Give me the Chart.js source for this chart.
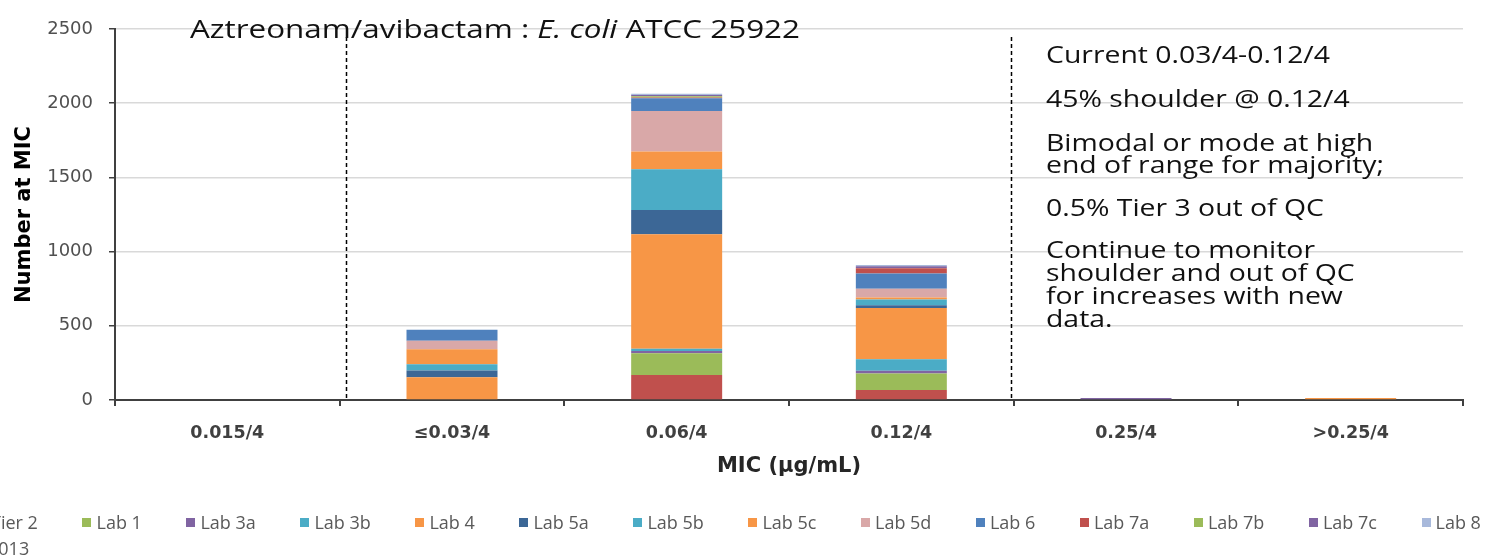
<!DOCTYPE html>
<html><head><meta charset="utf-8">
<script src="https://cdn.jsdelivr.net/npm/chart.js@4.4.1/dist/chart.umd.min.js"></script>
<style>
html,body{margin:0;padding:0;background:#fff;}
#wrap{position:relative;width:1490px;height:558px;overflow:hidden;background:#fff;}
#c{position:absolute;left:0;top:0;}
#legend{position:absolute;left:0;top:0;width:1490px;height:558px;pointer-events:none;font-family:'Open Sans',sans-serif;font-size:18px;color:#595959;}
.row{position:absolute;display:flex;align-items:center;white-space:nowrap;height:24px;line-height:24px;}
.item{display:flex;align-items:center;}
.box{width:9px;height:9px;margin-right:5px;flex:none;}
</style></head><body>
<div id="wrap"><canvas id="c" width="1490" height="558"></canvas><div id="legend"></div></div>
<script>
// ---- data ----
const categories = ['0.015/4', '≤0.03/4', '0.06/4', '0.12/4', '0.25/4', '>0.25/4'];
const tier2 = [0, 0, 169, 67, 0, 0];
const lab1  = [0, 0, 146, 112, 0, 0];
const lab3a = [0, 0, 15, 18, 14, 0];
const lab3b = [0, 0, 16, 77, 0, 0];
const lab4  = [0, 153, 771, 346, 0, 14];
const lab5a = [0, 45, 164, 18, 0, 0];
const lab5b = [0, 43, 274, 40, 0, 0];
const lab5c = [0, 101, 119, 13, 0, 0];
const lab5d = [0, 58, 274, 58, 0, 0];
const lab6  = [0, 74, 86, 104, 0, 0];
const lab7a = [0, 0, 5, 34, 0, 0];
const lab7b = [0, 0, 8, 0, 0, 0];
const lab7c = [0, 0, 8, 14, 0, 0];
const lab8  = [0, 0, 8, 8, 0, 0];
const seriesLabels = ['Tier 2','Lab 1','Lab 3a','Lab 3b','Lab 4','Lab 5a','Lab 5b','Lab 5c','Lab 5d','Lab 6','Lab 7a','Lab 7b','Lab 7c','Lab 8'];
const seriesValues = [tier2, lab1, lab3a, lab3b, lab4, lab5a, lab5b, lab5c, lab5d, lab6, lab7a, lab7b, lab7c, lab8];
const yTicks = [0, 500, 1000, 1500, 2000, 2500];
const titleParts = [['Aztreonam/avibactam : ', 'normal'], ['E. coli', 'italic'], [' ATCC 25922', 'normal']];
const noteLines = ['Current 0.03/4-0.12/4', '45% shoulder @ 0.12/4', 'Bimodal or mode at high', 'end of range for majority;', '0.5% Tier 3 out of QC', 'Continue to monitor', 'shoulder and out of QC', 'for increases with new', 'data.'];
const legendExtra = '2013';

// ---- styles ----
const seriesColors = ['#C0504D','#9BBB59','#8064A2','#4BACC6','#F79646','#3C6796','#4BACC6','#F79646','#D9A8A8','#4F81BD','#C0504D','#9BBB59','#8064A2','#A8B9DB'];
const dashedAt = [0.527, 3.488];     // category positions of the dashed separators
const noteBaselines = [63, 107, 151, 173, 216, 258, 281, 304, 327];
const NOTE_X = 1046, NOTE_W = 284, NOTE_FONT = 23;
const TITLE_X = 190, TITLE_W = 610, TITLE_BASE = 38, TITLE_FONT = 25;

const overlay = {
  id: 'overlay',
  afterDraw(chart) {
    const ctx = chart.ctx, xs = chart.scales.x, area = chart.chartArea;
    ctx.save();
    ctx.strokeStyle = '#000'; ctx.lineWidth = 1.5; ctx.setLineDash([4, 3]);
    dashedAt.forEach(p => {
      const x = Math.round(xs.getPixelForValue(p)) + 0.5;
      ctx.beginPath(); ctx.moveTo(x, area.top + 8); ctx.lineTo(x, area.bottom); ctx.stroke();
    });
    ctx.setLineDash([]);
    ctx.fillStyle = '#111'; ctx.textBaseline = 'alphabetic'; ctx.textAlign = 'left';
    let natural = 0;
    titleParts.forEach(([t, st]) => { ctx.font = st + ' ' + TITLE_FONT + 'px "Open Sans"'; natural += ctx.measureText(t).width; });
    const tsx = TITLE_W / natural;
    ctx.save(); ctx.translate(TITLE_X, TITLE_BASE); ctx.scale(tsx, 1);
    let cx = 0;
    titleParts.forEach(([t, st]) => { ctx.font = st + ' ' + TITLE_FONT + 'px "Open Sans"'; ctx.fillText(t, cx, 0); cx += ctx.measureText(t).width; });
    ctx.restore();
    ctx.font = NOTE_FONT + 'px "Open Sans"';
    const nsx = NOTE_W / ctx.measureText(noteLines[0]).width;
    noteLines.forEach((t, i) => {
      ctx.save(); ctx.translate(NOTE_X, noteBaselines[i]); ctx.scale(nsx, 1); ctx.fillText(t, 0, 0); ctx.restore();
    });
    ctx.restore();
  }
};

const chart = new Chart(document.getElementById('c'), {
  type: 'bar',
  data: {
    labels: categories,
    datasets: seriesLabels.map((l, i) => ({ label: l, data: seriesValues[i], backgroundColor: seriesColors[i], borderWidth: 0, stack: 's' }))
  },
  options: {
    responsive: false, animation: false, devicePixelRatio: 1,
    layout: { padding: { top: 29, right: 27, bottom: 78, left: 0 } },
    datasets: { bar: { barPercentage: 0.405, categoryPercentage: 1 } },
    plugins: { legend: { display: false }, title: { display: false }, tooltip: { enabled: false } },
    scales: {
      x: {
        stacked: true,
        grid: { display: true, drawOnChartArea: false, drawTicks: true, tickLength: 6, offset: true, color: '#404040', lineWidth: 2 },
        border: { display: true, color: '#404040', width: 2 },
        ticks: { padding: 17, color: '#404040', maxRotation: 0, autoSkip: false, font: { family: 'DejaVu Sans', size: 17.5, weight: 'bold' } },
        title: { display: true, text: 'MIC (µg/mL)', color: '#262626', font: { family: 'DejaVu Sans', size: 21, weight: 'bold' }, padding: { top: 0, bottom: 1 } },
        afterFit: s => { s.height = 80; }
      },
      y: {
        stacked: true, min: 0, max: 2500,
        afterBuildTicks: s => { s.ticks = yTicks.map(v => ({ value: v })); },
        ticks: { padding: 16, color: '#505050', font: { family: 'DejaVu Sans', size: 18 }, callback: v => String(v) },
        grid: { color: '#d9d9d9', lineWidth: 1.5, tickColor: '#404040', tickLength: 6, drawTicks: true },
        border: { display: true, color: '#404040', width: 2 },
        title: { display: true, text: 'Number at MIC', color: '#000', font: { family: 'DejaVu Sans', size: 21, weight: 'bold' }, padding: { top: 12, bottom: 0 } },
        afterFit: s => { s.width = 115; }
      }
    }
  },
  plugins: [overlay]
});

// ---- legend (HTML, from the chart's datasets) ----
(function () {
  const lg = document.getElementById('legend');
  const row = document.createElement('div');
  row.className = 'row'; row.style.left = '-23px'; row.style.top = '510px';
  chart.data.datasets.forEach(ds => {
    const it = document.createElement('div'); it.className = 'item'; it.style.marginRight = '44.6px';
    const b = document.createElement('div'); b.className = 'box'; b.style.background = ds.backgroundColor;
    const t = document.createElement('span'); t.textContent = ds.label;
    it.appendChild(b); it.appendChild(t); row.appendChild(it);
  });
  lg.appendChild(row);
  const row2 = document.createElement('div');
  row2.className = 'row'; row2.style.left = '-12px'; row2.style.top = '536px';
  row2.textContent = legendExtra;
  lg.appendChild(row2);
})();
</script>
</body></html>
